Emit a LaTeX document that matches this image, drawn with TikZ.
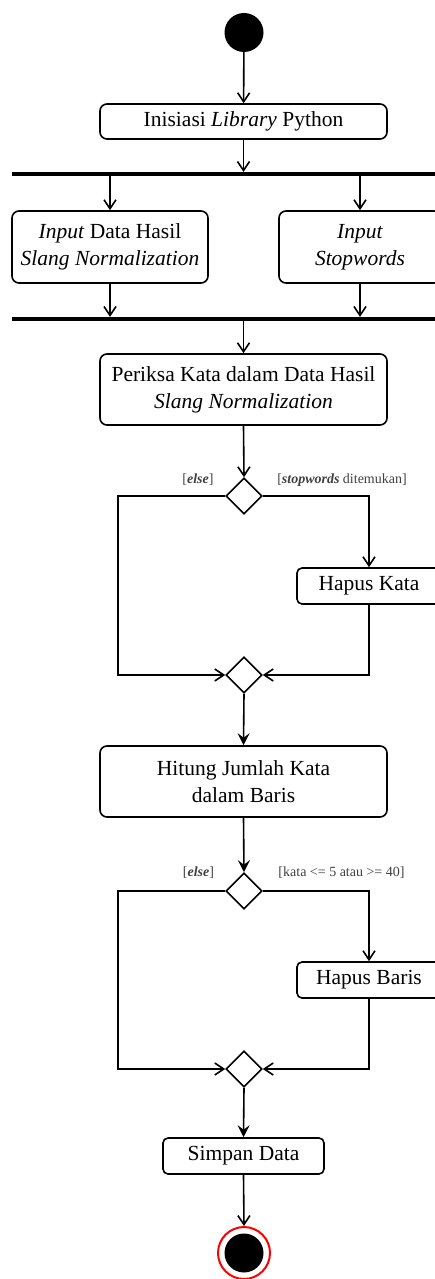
\documentclass[tikz,border=0pt]{standalone}
\usepackage{fontspec}
\setmainfont{Liberation Serif}
\usetikzlibrary{arrows.meta,shapes.geometric}

\tikzset{
  act/.style={draw, line width=1.6pt, rounded corners=7pt, fill=white, align=center,
    inner sep=2pt, font=\fontsize{21.5}{27}\selectfont},
  smallact/.style={act, rounded corners=5pt},
  bar/.style={fill=black, draw=none, minimum height=3.8pt, inner sep=0pt},
  decision/.style={diamond, draw, line width=1.6pt, fill=white, inner sep=0pt,
    minimum width=36pt, minimum height=36pt},
  startdot/.style={circle, fill=black, minimum size=39pt, inner sep=0pt},
  endring/.style={circle, draw=red, line width=2pt, fill=white, minimum size=52pt, inner sep=0pt},
  enddot/.style={circle, fill=black, minimum size=39pt, inner sep=0pt},
  guard/.style={text=black!75, font=\fontsize{14}{16}\selectfont, inner sep=1pt},
  flow/.style={line width=1.6pt, -{Straight Barb[length=9pt,width=12pt]}},
  flowfill/.style={line width=1.6pt, -{Stealth[length=12pt,width=12pt,inset=4.5pt]}}
}

\begin{document}
\begin{tikzpicture}[x=1pt, y=-1pt]
\useasboundingbox (0,0) rectangle (434,1279);

% activity nodes
\node[startdot] (start) at (244,32.5) {};
\node[act, minimum width=287pt, minimum height=35pt] (init) at (243.5,121.5) {Inisiasi \textit{Library} Python};
\node[bar, minimum width=428pt] (fork) at (226,174) {};
\node[act, minimum width=196pt, minimum height=72pt] (inA) at (110,247) {\textit{Input} Data Hasil\\\textit{Slang Normalization}};
\node[act, minimum width=162pt, minimum height=72pt] (inB) at (360,247) {\textit{Input}\\\textit{Stopwords}};
\node[bar, minimum width=428pt] (join) at (226,319) {};
\node[act, minimum width=287pt, minimum height=71pt] (cek) at (243.5,389.5) {Periksa Kata dalam Data Hasil\\\textit{Slang Normalization}};
\node[decision] (d1) at (244,496) {};
\node[smallact, minimum width=144pt, minimum height=36pt] (hk) at (369,586) {Hapus Kata};
\node[decision] (m1) at (244,675) {};
\node[act, minimum width=287pt, minimum height=71pt] (hit) at (243.5,781.5) {Hitung Jumlah Kata\\dalam Baris};
\node[decision] (d2) at (244,891) {};
\node[smallact, minimum width=144pt, minimum height=36pt] (hb) at (369,980) {Hapus Baris};
\node[decision] (m2) at (244,1069) {};
\node[smallact, minimum width=161pt, minimum height=36pt] (save) at (243.5,1156) {Simpan Data};
\node[endring] (end) at (244,1253) {};
\node[enddot] (endin) at (244,1253) {};

% guards
\node[guard] (g1a) at (198,480) {[\textbf{\textit{else}}]};
\node[guard] (g1b) at (342,480) {[\textbf{\textit{stopwords}} ditemukan]};
\node[guard] (g2a) at (198.5,873) {[\textbf{\textit{else}}]};
\node[guard] (g2b) at (341.5,873) {[kata <= 5 atau >= 40]};

\coordinate (l1) at (118,496);
\coordinate (l2) at (118,891);

% control flow
\draw[flow] (start) -- (init);
\draw[flow] (init.south) -- (init.south |- fork.north);
\draw[flow] (inA.north |- fork.south) -- (inA.north);
\draw[flow] (inB.north |- fork.south) -- (inB.north);
\draw[flow] (inA.south) -- (inA.south |- join.north);
\draw[flow] (inB.south) -- (inB.south |- join.north);
\draw[flow] (cek.north |- join.south) -- (cek.north);
\draw[flow] (cek.south) -- (d1.north);
\draw[flow] (d1.west) -- (l1) |- (m1.west);
\draw[flow] (d1.east) -| (hk.north);
\draw[flow] (hk.south) |- (m1.east);
\draw[flowfill] (m1.south) -- (hit.north);
\draw[flowfill] (hit.south) -- (d2.north);
\draw[flow] (d2.west) -- (l2) |- (m2.west);
\draw[flow] (d2.east) -| (hb.north);
\draw[flow] (hb.south) |- (m2.east);
\draw[flowfill] (m2.south) -- (save.north);
\draw[flow] (save.south) -- (end.north);
\end{tikzpicture}
\end{document}
